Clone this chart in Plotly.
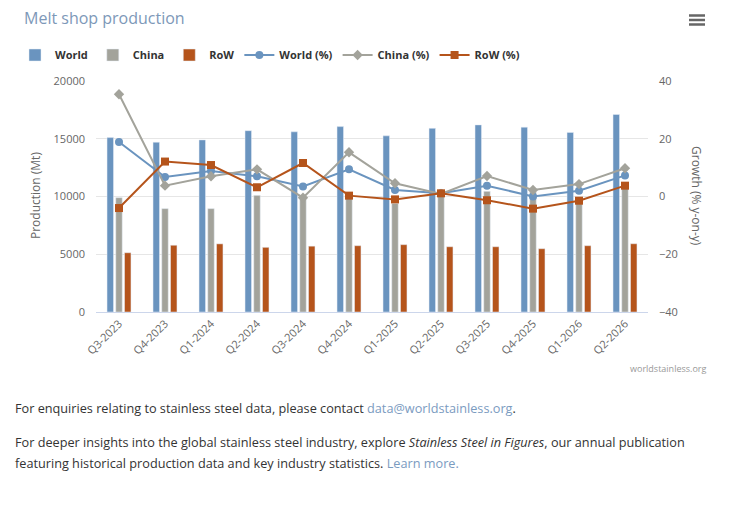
import plotly.graph_objects as go

quarters = ["Q3-2023", "Q4-2023", "Q1-2024", "Q2-2024", "Q3-2024", "Q4-2024",
            "Q1-2025", "Q2-2025", "Q3-2025", "Q4-2025", "Q1-2026", "Q2-2026"]
world = [15100, 14700, 14900, 15700, 15600, 16050, 15250, 15900, 16200, 16000, 15550, 17100]
china = [9900, 8950, 8950, 10100, 9950, 10000, 9400, 10300, 10450, 10400, 9600, 10850]
row = [5130, 5780, 5900, 5600, 5700, 5740, 5830, 5650, 5650, 5480, 5740, 5910]
world_pct = [18.9, 6.75, 8.8, 7.0, 3.5, 9.4, 2.25, 1.1, 3.75, 0.0, 2.0, 7.3]
china_pct = [35.4, 3.75, 7.0, 9.4, -0.4, 15.3, 4.6, 0.9, 7.1, 2.25, 4.3, 9.8]
row_pct = [-4.0, 12.1, 10.9, 3.2, 11.6, 0.3, -1.0, 1.1, -1.3, -4.2, -1.45, 3.75]

W, H = 733, 514
X0, X1, Y0, Y1 = 96, 648, 81, 312


def px(x):
    return (x - X0) / (X1 - X0)


def py(y):
    return (Y1 - y) / (Y1 - Y0)


C_WORLD = "#6a94bf"
C_CHINA = "#a3a39b"
C_ROW = "#b5541b"
FONT = "Open Sans, DejaVu Sans, sans-serif"

fig = go.Figure()
fig.add_trace(go.Bar(x=quarters, y=world, name="<b>World</b>", marker_color=C_WORLD, yaxis="y"))
fig.add_trace(go.Bar(x=quarters, y=china, name="<b>China</b>", marker_color=C_CHINA, yaxis="y"))
fig.add_trace(go.Bar(x=quarters, y=row, name="<b>RoW</b>", marker_color=C_ROW, yaxis="y"))
fig.add_trace(go.Scatter(x=quarters, y=world_pct, name="<b>World (%)</b>", yaxis="y2",
                         mode="lines+markers", line=dict(color=C_WORLD, width=2),
                         marker=dict(symbol="circle", size=8, color=C_WORLD)))
fig.add_trace(go.Scatter(x=quarters, y=china_pct, name="<b>China (%)</b>", yaxis="y2",
                         mode="lines+markers", line=dict(color=C_CHINA, width=2),
                         marker=dict(symbol="diamond", size=8, color=C_CHINA)))
fig.add_trace(go.Scatter(x=quarters, y=row_pct, name="<b>RoW (%)</b>", yaxis="y2",
                         mode="lines+markers", line=dict(color=C_ROW, width=2),
                         marker=dict(symbol="square", size=8, color=C_ROW)))

annotations = [
    dict(text="Melt shop production", x=px(22), y=py(18), xanchor="left", yanchor="middle",
         font=dict(size=16, color="#7d98b8", family=FONT)),
    dict(text="Production (Mt)", x=px(35), y=py(196), textangle=-90, xanchor="center",
         yanchor="middle", font=dict(size=12, color="#666666", family=FONT)),
    dict(text="Growth (% y-on-y)", x=px(697), y=py(196), textangle=90, xanchor="center",
         yanchor="middle", font=dict(size=12, color="#666666", family=FONT)),
    dict(text="worldstainless.org", x=px(708), y=py(368), xanchor="right", yanchor="middle",
         font=dict(size=9, color="#999999", family=FONT)),
    dict(text="For enquiries relating to stainless steel data, please contact "
              "<span style='color:#7b9bbf'>data@worldstainless.org</span>.",
         x=px(13), y=py(408), xanchor="left", yanchor="middle",
         font=dict(size=12.7, color="#333333", family=FONT)),
    dict(text="For deeper insights into the global stainless steel industry, explore "
              "<i>Stainless Steel in Figures</i>, our annual publication",
         x=px(13), y=py(442), xanchor="left", yanchor="middle",
         font=dict(size=12.7, color="#333333", family=FONT)),
    dict(text="featuring historical production data and key industry statistics. "
              "<span style='color:#7b9bbf'>Learn more.</span>",
         x=px(13), y=py(463), xanchor="left", yanchor="middle",
         font=dict(size=12.7, color="#333333", family=FONT)),
]
for a in annotations:
    a.update(xref="paper", yref="paper", showarrow=False)

shapes = []
for yy in (15.5, 20, 24.5):
    shapes.append(dict(type="line", xref="paper", yref="paper", x0=px(689), x1=px(705),
                       y0=py(yy), y1=py(yy), line=dict(color="#666666", width=2.5)))

fig.update_layout(
    width=W, height=H,
    margin=dict(l=X0, r=W - X1, t=Y0, b=H - Y1, pad=0),
    paper_bgcolor="white", plot_bgcolor="white",
    font=dict(family=FONT, color="#333333"),
    barmode="group", bargap=0.43, bargroupgap=0.26,
    showlegend=True,
    legend=dict(orientation="h", x=px(15), y=py(55), xanchor="left", yanchor="middle",
                font=dict(size=11, color="#333333", family=FONT), itemwidth=30,
                traceorder="normal", bgcolor="rgba(0,0,0,0)"),
    xaxis=dict(type="category", range=[-0.5, len(quarters) - 0.5], autorange=False,
               tickangle=-45, tickfont=dict(size=11, color="#666666"),
               showline=True, linecolor="#ccd6eb", linewidth=1, showgrid=False,
               ticks="", fixedrange=True),
    yaxis=dict(range=[0, 20000], dtick=5000, showgrid=True, gridcolor="#e6e6e6",
               zeroline=False, tickfont=dict(size=11, color="#666666"), ticks="",
               ticklabelstandoff=10, tickformat="d"),
    yaxis2=dict(range=[-40, 40], dtick=20, overlaying="y", side="right", showgrid=False,
                zeroline=False, tickfont=dict(size=11, color="#666666"), ticks="",
                ticklabelstandoff=10),
    annotations=annotations,
    shapes=shapes,
)

fig.write_html("out.html", config={"displayModeBar": False},
               post_script="document.body.style.margin='0';document.body.style.overflow='hidden';")
